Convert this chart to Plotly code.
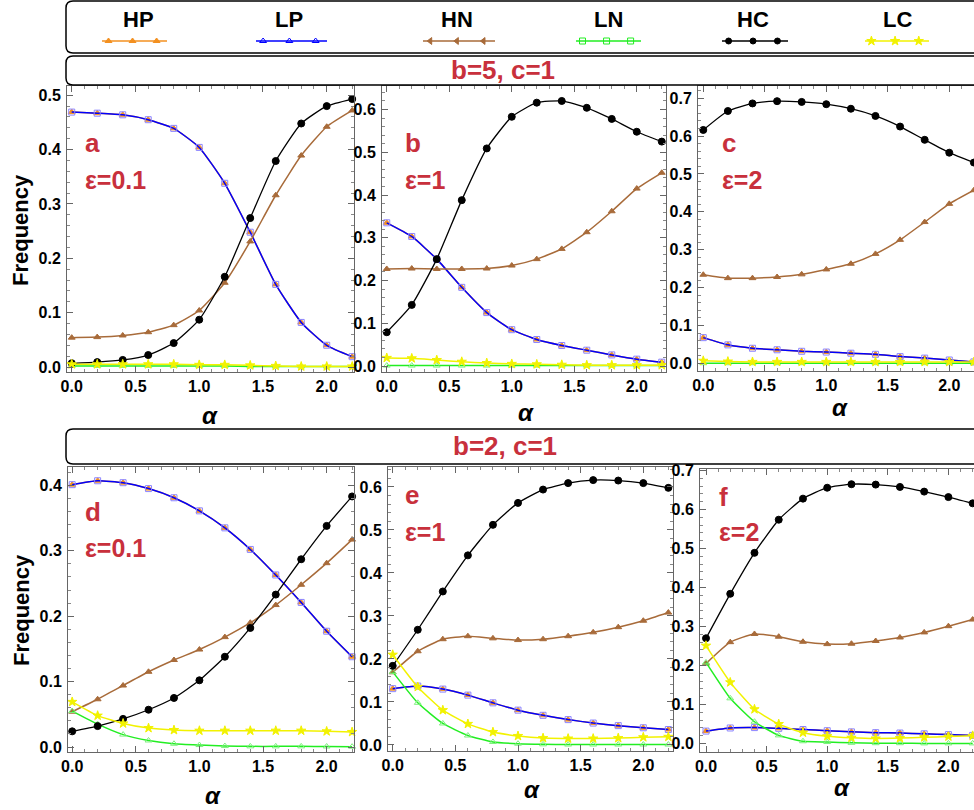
import plotly.graph_objects as go

# ---------------- data ----------------
alpha = [0.0, 0.2, 0.4, 0.6, 0.8, 1.0, 1.2, 1.4, 1.6, 1.8, 2.0, 2.2]
series_names = ["HP", "LP", "HN", "LN", "HC", "LC"]

# b=5, c=1, eps=0.1
a_HP = [0.469, 0.467, 0.464, 0.455, 0.439, 0.404, 0.338, 0.248, 0.152, 0.082, 0.040, 0.019]
a_LP = [0.469, 0.467, 0.464, 0.455, 0.439, 0.404, 0.338, 0.248, 0.152, 0.082, 0.040, 0.019]
a_HN = [0.054, 0.055, 0.058, 0.064, 0.077, 0.104, 0.155, 0.231, 0.316, 0.389, 0.442, 0.472]
a_LN = [0.002, 0.002, 0.002, 0.002, 0.002, 0.002, 0.002, 0.001, 0.001, 0.001, 0.001, 0.001]
a_HC = [0.007, 0.009, 0.013, 0.022, 0.044, 0.087, 0.166, 0.274, 0.379, 0.448, 0.480, 0.493]
a_LC = [0.005, 0.005, 0.005, 0.005, 0.005, 0.004, 0.004, 0.003, 0.002, 0.001, 0.001, 0.001]

# b=5, c=1, eps=1
b_HP = [0.335, 0.303, 0.250, 0.184, 0.125, 0.085, 0.062, 0.048, 0.037, 0.026, 0.016, 0.009]
b_LP = [0.335, 0.303, 0.250, 0.184, 0.125, 0.085, 0.062, 0.048, 0.037, 0.026, 0.016, 0.009]
b_HN = [0.227, 0.228, 0.227, 0.227, 0.228, 0.235, 0.250, 0.274, 0.313, 0.362, 0.415, 0.452]
b_LN = [0.001, 0.001, 0.001, 0.001, 0.001, 0.001, 0.001, 0.001, 0.001, 0.001, 0.001, 0.001]
b_HC = [0.079, 0.143, 0.250, 0.388, 0.509, 0.583, 0.616, 0.620, 0.604, 0.578, 0.548, 0.525]
b_LC = [0.019, 0.018, 0.014, 0.010, 0.007, 0.005, 0.004, 0.003, 0.002, 0.002, 0.002, 0.002]

# b=5, c=1, eps=2
c_HP = [0.068, 0.049, 0.040, 0.036, 0.032, 0.030, 0.027, 0.024, 0.018, 0.014, 0.009, 0.004]
c_LP = [0.068, 0.049, 0.040, 0.036, 0.032, 0.030, 0.027, 0.024, 0.018, 0.014, 0.009, 0.004]
c_HN = [0.234, 0.225, 0.225, 0.228, 0.235, 0.248, 0.263, 0.289, 0.326, 0.373, 0.421, 0.457]
c_LN = [0.0005, 0.0005, 0.0005, 0.0005, 0.0005, 0.0005, 0.0005, 0.0005, 0.0005, 0.0005, 0.0005, 0.0005]
c_HC = [0.616, 0.666, 0.686, 0.692, 0.690, 0.684, 0.672, 0.653, 0.625, 0.590, 0.556, 0.530]
c_LC = [0.007, 0.005, 0.004, 0.004, 0.004, 0.004, 0.004, 0.004, 0.004, 0.004, 0.004, 0.004]

# b=2, c=1, eps=0.1
d_HP = [0.401, 0.407, 0.404, 0.395, 0.381, 0.361, 0.335, 0.302, 0.263, 0.221, 0.177, 0.138]
d_LP = [0.401, 0.407, 0.404, 0.395, 0.381, 0.361, 0.335, 0.302, 0.263, 0.221, 0.177, 0.138]
d_HN = [0.054, 0.073, 0.094, 0.115, 0.133, 0.149, 0.168, 0.190, 0.217, 0.248, 0.281, 0.317]
d_LN = [0.055, 0.035, 0.019, 0.010, 0.005, 0.003, 0.0015, 0.001, 0.001, 0.001, 0.0008, 0.0005]
d_HC = [0.024, 0.032, 0.043, 0.057, 0.075, 0.102, 0.138, 0.182, 0.233, 0.287, 0.338, 0.383]
d_LC = [0.069, 0.048, 0.036, 0.029, 0.026, 0.025, 0.025, 0.025, 0.025, 0.025, 0.024, 0.023]

# b=2, c=1, eps=1
e_HP = [0.131, 0.137, 0.130, 0.116, 0.098, 0.081, 0.069, 0.059, 0.051, 0.045, 0.040, 0.036]
e_LP = [0.131, 0.137, 0.130, 0.116, 0.098, 0.081, 0.069, 0.059, 0.051, 0.045, 0.040, 0.036]
e_HN = [0.169, 0.218, 0.246, 0.253, 0.248, 0.244, 0.246, 0.253, 0.262, 0.274, 0.289, 0.308]
e_LN = [0.170, 0.098, 0.050, 0.022, 0.007, 0.003, 0.0015, 0.001, 0.001, 0.001, 0.001, 0.001]
e_HC = [0.184, 0.268, 0.357, 0.441, 0.512, 0.563, 0.594, 0.609, 0.616, 0.615, 0.609, 0.598]
e_LC = [0.210, 0.135, 0.081, 0.049, 0.030, 0.021, 0.016, 0.015, 0.015, 0.016, 0.018, 0.019]

# b=2, c=1, eps=2
f_HP = [0.032, 0.040, 0.041, 0.039, 0.036, 0.033, 0.030, 0.028, 0.027, 0.025, 0.023, 0.021]
f_LP = [0.032, 0.040, 0.041, 0.039, 0.036, 0.033, 0.030, 0.028, 0.027, 0.025, 0.023, 0.021]
f_HN = [0.205, 0.260, 0.281, 0.274, 0.261, 0.255, 0.256, 0.263, 0.272, 0.285, 0.301, 0.318]
f_LN = [0.208, 0.116, 0.056, 0.021, 0.006, 0.004, 0.002, 0.001, 0.001, 0.0005, 0.0005, 0.0005]
f_HC = [0.270, 0.384, 0.489, 0.574, 0.628, 0.656, 0.665, 0.664, 0.658, 0.646, 0.632, 0.616]
f_LC = [0.251, 0.157, 0.088, 0.050, 0.028, 0.019, 0.015, 0.013, 0.014, 0.016, 0.018, 0.020]

panel_letters = ["a", "b", "c", "d", "e", "f"]
panel_eps = ["ε=0.1", "ε=1", "ε=2", "ε=0.1", "ε=1", "ε=2"]
group_titles = ["b=5, c=1", "b=2, c=1"]

# ---------------- layout helpers ----------------
W, H = 974, 810
def px(x):
    return x / W
def py(y):
    return 1 - y / H

CRIMSON = "#c8303c"
FONT = "Liberation Sans, Arial, sans-serif"

styles = {
    "HP": dict(line="#f39020", mcolor="#f39020", symbol="triangle-up", size=6, lw=1.5),
    "LP": dict(line="#0000ff", mcolor="#8c84ff", symbol="square-open", size=6, lw=1.5),
    "HN": dict(line="#a86b3a", mcolor="#a86b3a", symbol="triangle-up", size=6, lw=1.5),
    "LN": dict(line="#22ee22", mcolor="#7cf07c", symbol="triangle-up-open", size=6, lw=1.5),
    "HC": dict(line="#000000", mcolor="#000000", symbol="circle", size=7, lw=1.3),
    "LC": dict(line="#f2f200", mcolor="#f2f200", symbol="star", size=7, lw=1.5),
}

panel_data = [
    (a_HP, a_LP, a_HN, a_LN, a_HC, a_LC),
    (b_HP, b_LP, b_HN, b_LN, b_HC, b_LC),
    (c_HP, c_LP, c_HN, c_LN, c_HC, c_LC),
    (d_HP, d_LP, d_HN, d_LN, d_HC, d_LC),
    (e_HP, e_LP, e_HN, e_LN, e_HC, e_LC),
    (f_HP, f_LP, f_HN, f_LN, f_HC, f_LC),
]

# pixel boxes (left, right, top, bottom), axis ranges, mirror on right
panel_geom = [
    dict(box=(67, 354, 86, 372), xr=(-0.037, 2.214), yr=(-0.0092, 0.517), mir=True, lab=(83, 143, 180), ax=(210, 415)),
    dict(box=(382, 666, 86, 372), xr=(-0.038, 2.234), yr=(-0.014, 0.655), mir=True, lab=(403, 143, 180), ax=(526, 412)),
    dict(box=(698, 974, 86, 371), xr=(-0.043, 2.201), yr=(-0.020, 0.732), mir=False, lab=(720, 143, 180), ax=(840, 408)),
    dict(box=(68, 354, 467, 752), xr=(-0.033, 2.215), yr=(-0.0076, 0.428), mir=True, lab=(83, 512, 548), ax=(213, 795)),
    dict(box=(388, 673, 467, 751), xr=(-0.0375, 2.237), yr=(-0.014, 0.6465), mir=True, lab=(403, 495, 532), ax=(532, 789)),
    dict(box=(700, 974, 469, 752), xr=(-0.0495, 2.211), yr=(-0.0216, 0.704), mir=False, lab=(717, 497, 532), ax=(842, 787)),
]

fig = go.Figure()
layout = dict(
    width=W, height=H,
    margin=dict(l=0, r=0, t=0, b=0, pad=0, autoexpand=False),
    paper_bgcolor="white", plot_bgcolor="rgba(0,0,0,0)",
    showlegend=False,
    font=dict(family=FONT, color="black"),
)
annotations = []
shapes = []

FRAME = "#666666"
for i, (geom, data) in enumerate(zip(panel_geom, panel_data)):
    n = i + 1
    xa = "x" if n == 1 else f"x{n}"
    ya = "y" if n == 1 else f"y{n}"
    l, r, t, b = geom["box"]
    layout["xaxis" if n == 1 else f"xaxis{n}"] = dict(
        domain=[px(l), min(px(r), 1.0)], range=list(geom["xr"]), anchor=ya,
        showline=True, linecolor=FRAME, linewidth=1, mirror="ticks",
        ticks="inside", ticklen=6, tickcolor=FRAME, tickwidth=1,
        tickmode="linear", tick0=0, dtick=0.5, tickformat=".1f",
        tickfont=dict(family=FONT, size=16, color="black", weight="bold"),
        minor=dict(ticks="inside", ticklen=3, tickcolor="#888888", dtick=0.1, tick0=0),
        showgrid=False, zeroline=False, automargin=False,
    )
    layout["yaxis" if n == 1 else f"yaxis{n}"] = dict(
        domain=[py(b), py(t)], range=list(geom["yr"]), anchor=xa,
        showline=True, linecolor=FRAME, linewidth=1,
        mirror="ticks" if geom["mir"] else False,
        ticks="inside", ticklen=6, tickcolor=FRAME, tickwidth=1,
        tickmode="linear", tick0=0, dtick=0.1, tickformat=".1f",
        tickfont=dict(family=FONT, size=16, color="black", weight="bold"),
        minor=dict(ticks="inside", ticklen=3, tickcolor="#888888", dtick=0.02, tick0=0),
        showgrid=False, zeroline=False, ticklabelstandoff=2, automargin=False,
    )
    for name, vals in zip(series_names, data):
        s = styles[name]
        fig.add_trace(go.Scatter(
            x=alpha, y=vals, xaxis=xa, yaxis=ya, mode="lines+markers",
            line=dict(color=s["line"], width=s["lw"], shape="spline", smoothing=0.5),
            marker=dict(symbol=s["symbol"], size=s["size"], color=s["mcolor"],
                        line=dict(width=1, color=s["mcolor"])),
            cliponaxis=False,
            showlegend=False, hoverinfo="skip",
        ))
    lx, ly1, ly2 = geom["lab"]
    annotations.append(dict(text=panel_letters[i], x=px(lx), y=py(ly1), xref="paper", yref="paper",
                            xanchor="left", yanchor="middle", showarrow=False,
                            font=dict(family=FONT, size=26, color=CRIMSON, weight="bold")))
    annotations.append(dict(text=panel_eps[i], x=px(lx), y=py(ly2), xref="paper", yref="paper",
                            xanchor="left", yanchor="middle", showarrow=False,
                            font=dict(family=FONT, size=25, color=CRIMSON, weight="bold")))
    axx, axy = geom["ax"]
    annotations.append(dict(text="<i>α</i>", x=px(axx), y=py(axy), xref="paper", yref="paper",
                            xanchor="center", yanchor="middle", showarrow=False,
                            font=dict(family=FONT, size=24, color="black", weight="bold")))

# Frequency labels
for yc in (230, 610):
    annotations.append(dict(text="Frequency", x=px(21), y=py(yc), xref="paper", yref="paper",
                            xanchor="center", yanchor="middle", textangle=-90, showarrow=False,
                            font=dict(family=FONT, size=22, color="black", weight="bold")))

# rounded boxes
def rbox(x0, y0, x1, y1, rad=7):
    X0, X1 = px(x0), px(x1)
    Y0, Y1 = py(y0), py(y1)
    rx, ry = rad / W, rad / H
    path = (f"M {X0+rx},{Y0} L {X1-rx},{Y0} Q {X1},{Y0} {X1},{Y0-ry} "
            f"L {X1},{Y1+ry} Q {X1},{Y1} {X1-rx},{Y1} L {X0+rx},{Y1} "
            f"Q {X0},{Y1} {X0},{Y1+ry} L {X0},{Y0-ry} Q {X0},{Y0} {X0+rx},{Y0} Z")
    return dict(type="path", path=path, xref="paper", yref="paper",
                line=dict(color="black", width=1.5), fillcolor="rgba(0,0,0,0)", layer="above")

shapes.append(rbox(66, 1, 990, 53))
shapes.append(rbox(66, 56, 990, 85))
shapes.append(rbox(66, 429, 990, 464))

annotations.append(dict(text=group_titles[0], x=px(503), y=py(70), xref="paper", yref="paper",
                        xanchor="center", yanchor="middle", showarrow=False,
                        font=dict(family=FONT, size=26, color=CRIMSON, weight="bold")))
annotations.append(dict(text=group_titles[1], x=px(505), y=py(446), xref="paper", yref="paper",
                        xanchor="center", yanchor="middle", showarrow=False,
                        font=dict(family=FONT, size=26, color=CRIMSON, weight="bold")))

# legend drawn on a pixel-space helper axis at the top
leg_x0 = [102, 256, 423, 576, 722, 865]
leg_x1 = [167, 327, 495, 641, 788, 929]
leg_text_x = [138, 289, 457, 608, 753, 897]
leg_symbols = {"HP": "triangle-up", "LP": "triangle-up-open", "HN": "triangle-left",
               "LN": "square-open", "HC": "circle", "LC": "star"}
layout["xaxis7"] = dict(domain=[0, 1], range=[0, W], visible=False, anchor="y7", fixedrange=True)
layout["yaxis7"] = dict(domain=[py(60), 1], range=[60, 0], visible=False, anchor="x7", fixedrange=True)
for name, x0, x1, tx in zip(series_names, leg_x0, leg_x1, leg_text_x):
    s = styles[name]
    fig.add_trace(go.Scatter(
        x=[x0, x1], y=[41, 41], xaxis="x7", yaxis="y7", mode="lines",
        line=dict(color=s["line"], width=1.5), showlegend=False, hoverinfo="skip"))
    mx = [x0 + (x1 - x0) * f for f in (0.1, 0.47, 0.84)]
    fig.add_trace(go.Scatter(
        x=mx, y=[41, 41, 41], xaxis="x7", yaxis="y7", mode="markers",
        marker=dict(symbol=leg_symbols[name], size=6 if name != "LC" else 7, color=s["line"],
                    line=dict(width=1, color=s["line"])),
        showlegend=False, hoverinfo="skip"))
    annotations.append(dict(text=name, x=px(tx), y=py(19), xref="paper", yref="paper",
                            xanchor="center", yanchor="middle", showarrow=False,
                            font=dict(family=FONT, size=22, color="black", weight="bold")))

layout["annotations"] = annotations
layout["shapes"] = shapes
fig.update_layout(**layout)
fig.write_html(
    "out.html",
    config={"displayModeBar": False},
    post_script="document.body.style.margin='0';document.body.style.padding='0';"
                "document.body.style.overflow='hidden';",
)
